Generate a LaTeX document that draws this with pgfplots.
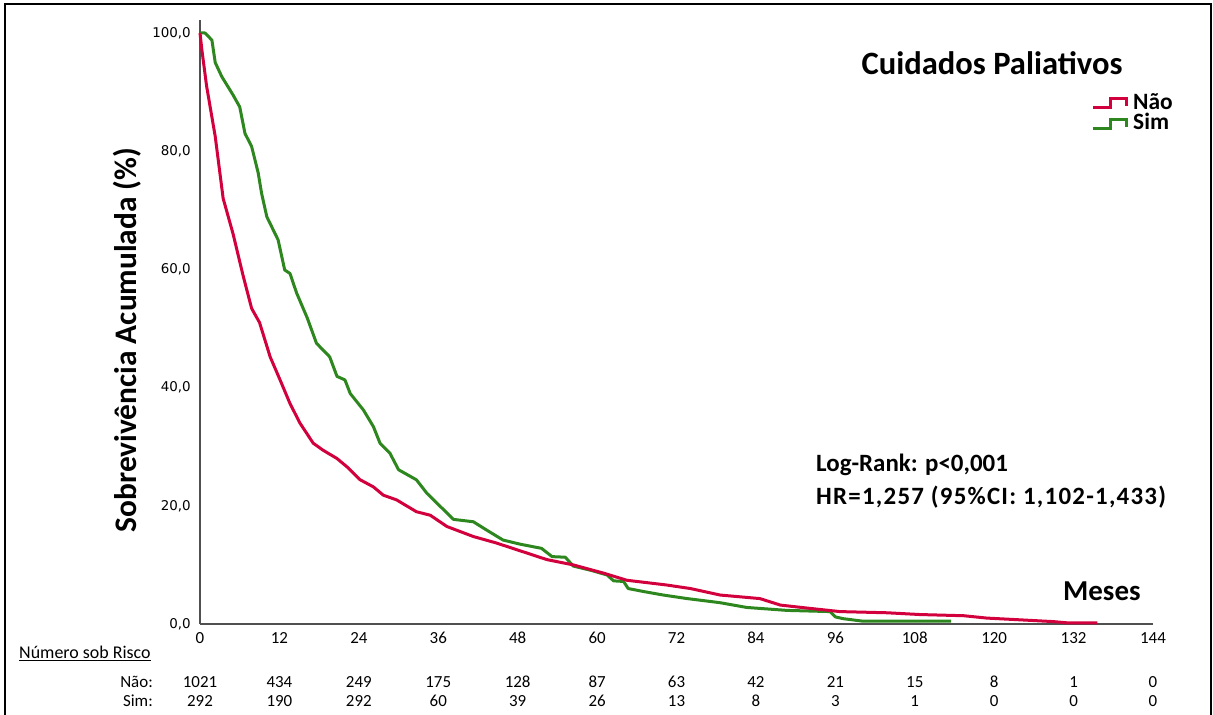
\documentclass[border=0pt]{standalone}
\usepackage{fontspec}
\setmainfont{Carlito}
\newfontfamily\dejavu{DejaVu Sans}
\usepackage{pgfplots}
\pgfplotsset{compat=1.18}
\definecolor{kmred}{RGB}{210,0,60}
\definecolor{kmgreen}{RGB}{45,135,30}
\definecolor{axgray}{RGB}{80,80,80}

\begin{document}
\begin{tikzpicture}
\path[use as bounding box] (0,0) rectangle (1213bp,715bp);
% frame (open at the bottom)
\draw[line width=2.5bp] (5bp,0) -- (5bp,711bp) -- (1211bp,711bp) -- (1211bp,0);

\begin{axis}[
  at={(200bp,91bp)}, anchor=south west,
  scale only axis, width=953bp, height=604bp,
  xmin=0, xmax=144, ymin=0, ymax=102.2,
  axis x line*=bottom, axis y line*=left,
  axis line style={axgray, line width=1.2bp},
  xtick={0,12,...,144}, ytick={0,20,...,100},
  yticklabels={{0,0},{20,0},{40,0},{60,0},{80,0},{100,0}},
  major tick length=0pt,
  /pgf/number format/assume math mode=true,
  x tick label style={font=\fontsize{17}{17}\selectfont, anchor=north, inner sep=0pt, yshift=-8bp},
  y tick label style={font=\dejavu\fontsize{13.5}{14}\selectfont, anchor=east, inner sep=0pt, xshift=-9bp},
  clip=false,
]
% Sim
\addplot[kmgreen, line width=3bp, line join=round] coordinates {
(0,100) (0.75,100) (1.8,98.8) (2.3,95) (3.3,92.6) (5.0,89.5) (6.0,87.5) (6.8,83.0)
(7.8,80.8) (8.8,76.3) (9.3,72.9) (10.1,68.9) (11.8,65.0) (12.8,59.9) (13.6,59.3)
(14.6,56.0) (16.2,51.8) (17.6,47.5) (19.6,45.2) (20.7,41.9) (21.9,41.3) (22.7,39.0)
(24.7,36.2) (26.2,33.4) (27.2,30.6) (28.7,28.9) (30.0,26.1) (32.7,24.4) (34.3,22.1)
(36.3,19.9) (38.3,17.7) (41.3,17.3) (43.3,15.9) (45.8,14.2) (48.4,13.5) (51.6,12.8)
(53.2,11.4) (55.2,11.3) (56.4,9.8) (59.0,9.1) (61.5,8.3) (62.5,7.3) (64.0,7.2)
(64.7,6.0) (67.0,5.5) (70.0,4.9) (73.6,4.3) (78.6,3.6) (82.6,2.8) (88.7,2.3)
(95.2,2.1) (96.0,1.2) (97.2,0.9) (100.0,0.5) (113.5,0.5)
};
% Nao
\addplot[kmred, line width=3bp, line join=round] coordinates {
(0,100) (0.3,97) (1.0,91) (2.3,82.5) (3.5,72) (5.0,66) (6.5,59) (7.8,53.4)
(9.0,51) (10.6,45.2) (12.1,41.3) (13.6,37.3) (15.1,34.0) (17.1,30.6) (18.6,29.4)
(20.7,28.0) (22.2,26.6) (24.2,24.4) (26.2,23.2) (27.7,21.8) (29.7,21.0) (32.7,19.0)
(34.8,18.4) (37.3,16.5) (41.3,14.8) (44.8,13.7) (48.6,12.3) (52.4,10.9) (56.4,10.0)
(61.0,8.6) (64.5,7.4) (70.5,6.6) (74.1,6.0) (78.6,4.9) (84.6,4.3) (87.7,3.2)
(91.7,2.7) (96.7,2.1) (103.8,1.9) (108.8,1.6) (115.4,1.4) (118.9,1.0) (124.0,0.7)
(129.0,0.4) (131.0,0.2) (135.6,0.2)
};
\end{axis}

% axis title and notes
\node[rotate=90, font=\bfseries\fontsize{31.5}{31.5}\selectfont] at (127bp,375bp) {Sobrevivência Acumulada (\%)};
\node[anchor=base, font=\bfseries\fontsize{32.7}{32.7}\selectfont] at (992bp,640bp) {Cuidados Paliativos};
\draw[kmred, line width=3bp] (1093bp,607bp) -- (1110bp,607bp) -- (1110bp,616bp) -- (1126bp,616bp) -- (1126bp,609bp);
\node[anchor=base west, inner sep=0pt, font=\bfseries\fontsize{23.5}{23.5}\selectfont] at (1133bp,605bp) {Não};
\draw[kmgreen, line width=3bp] (1093bp,586bp) -- (1110bp,586bp) -- (1110bp,595bp) -- (1126bp,595bp) -- (1126bp,588bp);
\node[anchor=base west, inner sep=0pt, font=\bfseries\fontsize{23.5}{23.5}\selectfont] at (1133bp,585bp) {Sim};
\node[anchor=base west, inner sep=0pt, font=\bfseries\fontsize{25}{25}\selectfont] at (816bp,243bp) {Log-Rank: p<0,001};
\node[anchor=base west, inner sep=0pt, font=\bfseries\fontsize{25}{25}\selectfont\addfontfeatures{LetterSpace=5}] at (816bp,210bp) {HR=1,257 (95\%CI: 1,102-1,433)};
\node[anchor=base west, inner sep=0pt, font=\bfseries\fontsize{29}{29}\selectfont] at (1063bp,114bp) {Meses};

% numbers at risk
\node[anchor=base west, inner sep=0pt, font=\fontsize{18}{18}\selectfont] at (19bp,56bp) {\underline{Número sob Risco}};
\node[anchor=base east, inner sep=0pt, font=\fontsize{17}{17}\selectfont] at (153bp,28bp) {Não:};
\node[anchor=base east, inner sep=0pt, font=\fontsize{17}{17}\selectfont] at (153bp,9bp) {Sim:};
\foreach \v [count=\i from 0] in {1021,434,249,175,128,87,63,42,21,15,8,1,0}
  \node[anchor=base, inner sep=0pt, font=\fontsize{17}{17}\selectfont] at ({(200+\i*79.417)*1bp},28bp) {\v};
\foreach \v [count=\i from 0] in {292,190,292,60,39,26,13,8,3,1,0,0,0}
  \node[anchor=base, inner sep=0pt, font=\fontsize{17}{17}\selectfont] at ({(200+\i*79.417)*1bp},9bp) {\v};
\end{tikzpicture}
\end{document}
